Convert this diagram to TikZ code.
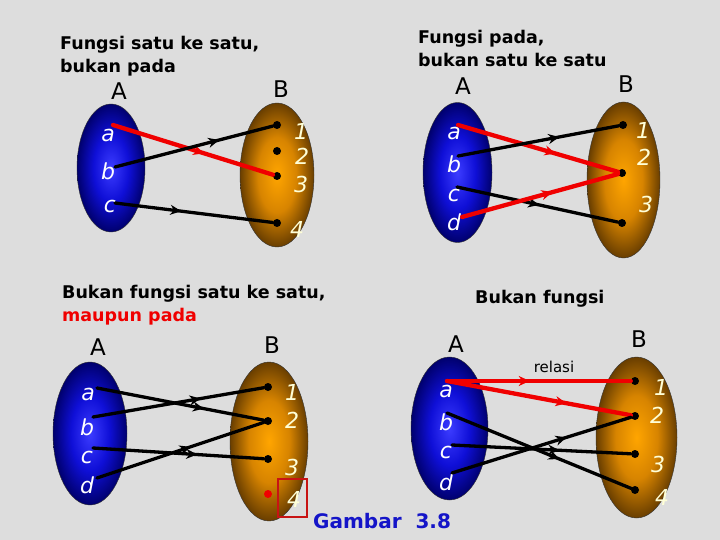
\documentclass[tikz,border=0pt]{standalone}
\usepackage{fontspec}
\setsansfont{DejaVu Sans}
\usetikzlibrary{shapes.geometric,arrows.meta,decorations.markings}

\definecolor{latar}{RGB}{221,221,221}
\definecolor{biruT}{RGB}{60,60,255}
\definecolor{biruM}{RGB}{15,15,215}
\definecolor{biruG}{RGB}{0,0,110}
\definecolor{oranyeT}{RGB}{255,165,0}
\definecolor{oranyeM}{RGB}{215,132,0}
\definecolor{oranyeG}{RGB}{105,62,0}
\definecolor{merah}{RGB}{240,0,0}
\definecolor{merahtua}{RGB}{200,20,20}
\definecolor{kuning}{RGB}{255,255,215}
\definecolor{birujudul}{RGB}{20,20,200}

% shadings for the two sets
\pgfdeclareradialshading{bolaA}{\pgfpoint{0bp}{0bp}}{color(0bp)=(biruT); color(13bp)=(biruM); color(25bp)=(biruG); color(50bp)=(biruG)}
\pgfdeclareradialshading{bolaB}{\pgfpoint{0bp}{0bp}}{color(0bp)=(oranyeT); color(13bp)=(oranyeM); color(25bp)=(oranyeG); color(50bp)=(oranyeG)}

\tikzset{
  himpA/.style={
    % The shape:
    ellipse,inner sep=0pt,
    % The border:
    draw=black!80,thin,
    % The filling:
    shading=bolaA}}
\tikzset{
  himpB/.style={
    ellipse,inner sep=0pt,
    draw=black!80,thin,
    shading=bolaB}}
\tikzset{
  judul/.style={anchor=north west,inner sep=0pt,align=left,
    font=\sffamily\bfseries\fontsize{17.5}{23}\selectfont},
  namaH/.style={anchor=base,inner sep=0pt,font=\sffamily\fontsize{23}{23}\selectfont},
  anggota/.style={anchor=base,inner sep=0pt,text=white,
    font=\sffamily\itshape\fontsize{22}{22}\selectfont},
  nomor/.style={anggota,text=kuning},
  titik/.style={circle,fill=black,inner sep=0pt,minimum size=8pt},
  garis/.style={draw=black,line width=3.3pt,line cap=round},
  garisM/.style={garis,draw=merah,line width=4.3pt},
  panah/.style={postaction={decorate},
    decoration={markings,mark=at position #1 with {\arrow{Stealth[length=11pt,width=10pt]}}}}}

\begin{document}
\begin{tikzpicture}[x=1pt,y=-1pt]
	\useasboundingbox[fill=latar] (0,0) rectangle (720,540);

	% Fungsi satu ke satu, bukan pada
	\node[judul] (judul1) at (60,36) {Fungsi satu ke satu,\\bukan pada};
	\node[himpA,minimum width=68pt,minimum height=128pt] (p1A) at (111,168) {};
	\node[himpB,minimum width=74pt,minimum height=144pt] (p1B) at (277,175) {};
	\node[namaH] (p1nA) at (119,100) {A};
	\node[namaH] (p1nB) at (281,98) {B};
	\node[anggota] (p1la) at (108,142) {a};
	\node[anggota] (p1lb) at (108,180) {b};
	\node[anggota] (p1lc) at (110,213) {c};
	\node[nomor] (p1l1) at (301,140) {1};
	\node[nomor] (p1l2) at (302,165) {2};
	\node[nomor] (p1l3) at (301,193) {3};
	\node[nomor] (p1l4) at (297,237) {4};
	\coordinate (p1a) at (113,125);
	\coordinate (p1b) at (115,167);
	\coordinate (p1c) at (115,203);
	\node[titik] (p1t1) at (277,125) {};
	\node[titik] (p1t2) at (277,151) {};
	\node[titik] (p1t3) at (277,176) {};
	\node[titik] (p1t4) at (277,223) {};
	\draw[garisM,panah=0.57] (p1a) -- (p1t3);
	\draw[garis,panah=0.66] (p1b) -- (p1t1);
	\draw[garis,panah=0.42] (p1c) -- (p1t4);

	% Fungsi pada, bukan satu ke satu
	\node[judul] (judul2) at (418,30) {Fungsi pada,\\bukan satu ke satu};
	\node[himpA,minimum width=69pt,minimum height=140pt] (p2A) at (457.5,172.5) {};
	\node[himpB,minimum width=73pt,minimum height=156pt] (p2B) at (623.5,180) {};
	\node[namaH] (p2nA) at (463,95) {A};
	\node[namaH] (p2nB) at (626,93) {B};
	\node[anggota] (p2la) at (454,140) {a};
	\node[anggota] (p2lb) at (454,173) {b};
	\node[anggota] (p2lc) at (454,202) {c};
	\node[anggota] (p2ld) at (454,230) {d};
	\node[nomor] (p2l1) at (643,139) {1};
	\node[nomor] (p2l2) at (644,166) {2};
	\node[nomor] (p2l3) at (646,213) {3};
	\coordinate (p2a) at (458,125);
	\coordinate (p2b) at (458,156);
	\coordinate (p2c) at (457,187);
	\coordinate (p2d) at (462,217);
	\node[titik] (p2t1) at (623,125) {};
	\node[titik] (p2t2) at (622,173) {};
	\node[titik] (p2t3) at (622,223) {};
	\draw[garisM,panah=0.61] (p2a) -- (p2t2);
	\draw[garis,panah=0.63] (p2b) -- (p2t1);
	\draw[garis,panah=0.51] (p2c) -- (p2t3);
	\draw[garisM,panah=0.58] (p2d) -- (p2t2);

	% Bukan fungsi satu ke satu, maupun pada
	\node[judul] (judul3) at (62,285) {Bukan fungsi satu ke satu,\\\textcolor{merah}{maupun pada}};
	\node[himpA,minimum width=74pt,minimum height=143pt] (p3A) at (90,433.5) {};
	\node[himpB,minimum width=78pt,minimum height=159pt] (p3B) at (269,441.5) {};
	\node[namaH] (p3nA) at (98,355) {A};
	\node[namaH] (p3nB) at (272,353) {B};
	\node[anggota] (p3la) at (88,400) {a};
	\node[anggota] (p3lb) at (87,435) {b};
	\node[anggota] (p3lc) at (87,463) {c};
	\node[anggota] (p3ld) at (87,493) {d};
	\node[nomor] (p3l1) at (292,400) {1};
	\node[nomor] (p3l2) at (292,428) {2};
	\node[nomor] (p3l3) at (292,475) {3};
	\node[nomor] (p3l4) at (294,507) {4};
	\node[draw=merahtua,line width=1.2pt,minimum width=29pt,minimum height=38pt] (kotak4) at (292.5,498) {};
	\coordinate (p3a) at (97,388);
	\coordinate (p3b) at (93,417);
	\coordinate (p3c) at (93,448);
	\coordinate (p3d) at (97,478);
	\node[titik] (p3t1) at (268,387) {};
	\node[titik] (p3t2) at (268,421) {};
	\node[titik] (p3t3) at (268,459) {};
	\node[titik,fill=merah] (p3t4) at (268,494) {};
	\draw[garis,panah=0.64] (p3a) -- (p3t2);
	\draw[garis,panah=0.63] (p3b) -- (p3t1);
	\draw[garis,panah=0.61] (p3c) -- (p3t3);
	\draw[garis,panah=0.56] (p3d) -- (p3t2);

	% Bukan fungsi
	\node[judul] (judul4) at (475,290) {Bukan fungsi};
	\node[himpA,minimum width=77pt,minimum height=143pt] (p4A) at (449.5,428.5) {};
	\node[himpB,minimum width=81pt,minimum height=161pt] (p4B) at (636.5,437.5) {};
	\node[namaH] (p4nA) at (456,352) {A};
	\node[namaH] (p4nB) at (639,347) {B};
	\node[anchor=base,inner sep=0pt,font=\sffamily\fontsize{15}{15}\selectfont] (relasi) at (554,372) {relasi};
	\node[anggota] (p4la) at (446,397) {a};
	\node[anggota] (p4lb) at (446,430) {b};
	\node[anggota] (p4lc) at (446,458) {c};
	\node[anggota] (p4ld) at (446,490) {d};
	\node[nomor] (p4l1) at (661,395) {1};
	\node[nomor] (p4l2) at (657,423) {2};
	\node[nomor] (p4l3) at (658,472) {3};
	\node[nomor] (p4l4) at (662,505) {4};
	\coordinate (p4a) at (447,381);
	\coordinate (p4b) at (447,413);
	\coordinate (p4c) at (452,445);
	\coordinate (p4d) at (452,473);
	\node[titik] (p4t1) at (635,381) {};
	\node[titik] (p4t2) at (635,416) {};
	\node[titik] (p4t3) at (635,454) {};
	\node[titik] (p4t4) at (635,490) {};
	\draw[garisM,panah=0.45] (p4a) -- (p4t1);
	\draw[garisM,panah=0.65] (p4a) -- (p4t2);
	\draw[garis,panah=0.61] (p4b) -- (p4t4);
	\draw[garis,panah=0.60] (p4c) -- (p4t3);
	\draw[garis,panah=0.64] (p4d) -- (p4t2);

	% Caption
	\node[anchor=base west,inner sep=0pt,text=birujudul,
		font=\sffamily\bfseries\fontsize{20}{20}\selectfont] (gambar) at (313,528) {Gambar\ \ 3.8};
\end{tikzpicture}
\end{document}
